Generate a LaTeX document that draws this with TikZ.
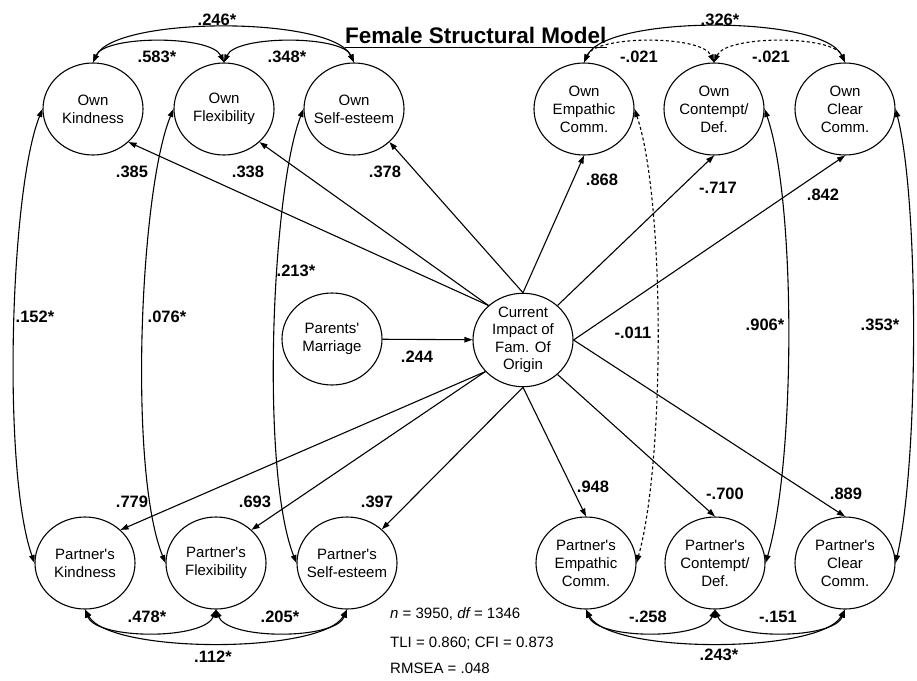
\documentclass[tikz,border=0pt]{standalone}
\usepackage{fontspec}
\newfontfamily\af{Liberation Sans}
\usetikzlibrary{shapes.geometric,arrows.meta}
\begin{document}
\begin{tikzpicture}[x=1pt,y=-1pt,
  lat/.style={ellipse,draw,line width=1.1pt,minimum width=100pt,minimum height=92pt,inner ysep=0pt,inner xsep=-12pt,align=center,font=\af\fontsize{15}{18}\selectfont},
  tip/.tip={Triangle[length=8pt,width=5.5pt]},
  reg/.style={line width=1.1pt,-tip},
  cov/.style={line width=1.1pt,tip-tip},
  dsh/.style={dash pattern=on 3pt off 2.5pt},
  lab/.style={font=\af\bfseries\fontsize{16.5}{16.5}\selectfont,inner sep=0pt},
  stat/.style={font=\af\fontsize{15}{15}\selectfont,inner sep=0pt,anchor=base west},
]
\useasboundingbox (0,0) rectangle (917,680);
\fill[white] (0,0) rectangle (917,680);

% title
\node[font=\af\bfseries\fontsize{22.5}{22.5}\selectfont,inner sep=0pt,anchor=base west] (title) at (345,43) {Female Structural Model};
\draw[line width=1.8pt] ([yshift=-4.5pt]title.base west) -- ([yshift=-4.5pt]title.base east);

% latent variables
\node[lat] (ownK) at (93,109) {Own\\Kindness};
\node[lat] (ownF) at (224,109) {Own\\Flexibility};
\node[lat] (ownS) at (354,109) {Own\\Self-esteem};
\node[lat] (ownE) at (584,109) {Own\\Empathic\\Comm.};
\node[lat] (ownC) at (714,109) {Own\\Contempt/\\Def.};
\node[lat] (ownCl) at (845,109) {Own\\Clear\\Comm.};

\node[lat] (par) at (332,339) {Parents'\\Marriage};
\node[lat,font=\af\fontsize{15}{17.5}\selectfont] (ctr) at (523,340) {Current\\Impact of\\Fam. Of\\Origin};

\node[lat] (partK) at (85,563) {Partner's\\Kindness};
\node[lat] (partF) at (216,563) {Partner's\\Flexibility};
\node[lat] (partS) at (347,563) {Partner's\\Self-esteem};
\node[lat] (partE) at (586,563) {Partner's\\Empathic\\Comm.};
\node[lat] (partC) at (715,563) {Partner's\\Contempt/\\Def.};
\node[lat] (partCl) at (845,563) {Partner's\\Clear\\Comm.};

% regression paths
\draw[reg] (par) -- (ctr);
\draw[reg] (ctr.135) -- (ownK.-43);
\draw[reg] (ctr.135) -- (ownF.-43);
\draw[reg] (ctr.north) -- (ownS.-43);
\draw[reg] (ctr.north) -- (ownE.south);
\draw[reg] (ctr.45) -- (ownC.south);
\draw[reg] (ctr.east) -- (ownCl.south);
\draw[reg] (ctr.-140) -- (partK.43);
\draw[reg] (ctr.-140) -- (partF.43);
\draw[reg] (ctr.south) -- (partS.44);
\draw[reg] (ctr.south) -- (partE.north);
\draw[reg] (ctr.-45) -- (partC.north);
\draw[reg] (ctr.east) -- (partCl.north);

% top covariances
\draw[cov] (ownK.north) .. controls (105,35) and (211,35) .. (ownF.north);
\draw[cov] (ownF.north) .. controls (236,35) and (342,35) .. (ownS.north);
\draw[cov] (ownK.north) .. controls (115,16) and (332,16) .. (ownS.north);
\draw[cov,dsh] (ownE.north) .. controls (596,35) and (702,35) .. (ownC.north);
\draw[cov,dsh] (ownC.north) .. controls (726,35) and (833,35) .. (ownCl.north);
\draw[cov] (ownE.north) .. controls (606,15) and (823,15) .. (ownCl.north);

% bottom covariances
\draw[cov] (partK.south) .. controls (97,640) and (204,640) .. (partF.south);
\draw[cov] (partF.south) .. controls (228,640) and (335,640) .. (partS.south);
\draw[cov] (partK.south) .. controls (110,654) and (322,654) .. (partS.south);
\draw[cov] (partE.south) .. controls (598,640) and (703,640) .. (partC.south);
\draw[cov] (partC.south) .. controls (727,640) and (833,640) .. (partCl.south);
\draw[cov] (partE.south) .. controls (610,654) and (820,654) .. (partCl.south);

% own - partner covariances
\draw[cov] (ownK.west) .. controls (10,190) and (2,470) .. (partK.west);
\draw[cov] (ownF.west) .. controls (140,190) and (128,470) .. (partF.west);
\draw[cov] (ownS.west) .. controls (272,190) and (260,470) .. (partS.west);
\draw[cov,dsh] (ownE.east) .. controls (665,200) and (665,460) .. (partE.east);
\draw[cov] (ownC.east) .. controls (796,200) and (796,460) .. (partC.east);
\draw[cov] (ownCl.east) .. controls (919,200) and (919,460) .. (partCl.east);

% labels
\node[lab] (l1) at (217,20) {.246*};
\node[lab] (l2) at (157,57) {.583*};
\node[lab] (l3) at (287,57) {.348*};
\node[lab] (l4) at (720,20) {.326*};
\node[lab] (l5) at (639,57) {-.021};
\node[lab] (l6) at (771,57) {-.021};
\node[lab] (l7) at (132,172) {.385};
\node[lab] (l8) at (248,172) {.338};
\node[lab] (l9) at (385,172) {.378};
\node[lab] (l10) at (602,180) {.868};
\node[lab] (l11) at (718,188) {-.717};
\node[lab] (l12) at (823,195) {.842};
\node[lab] (l13) at (35,317) {.152*};
\node[lab] (l14) at (167,317) {.076*};
\node[lab] (l15) at (296,271) {.213*};
\node[lab] (l16) at (417,357) {.244};
\node[lab] (l17) at (633,333) {-.011};
\node[lab] (l18) at (765,325) {.906*};
\node[lab] (l19) at (880,325) {.353*};
\node[lab] (l20) at (132,502) {.779};
\node[lab] (l21) at (255,502) {.693};
\node[lab] (l22) at (377,502) {.397};
\node[lab] (l23) at (593,487) {.948};
\node[lab] (l24) at (725,494) {-.700};
\node[lab] (l25) at (846,494) {.889};
\node[lab] (l26) at (147,617) {.478*};
\node[lab] (l27) at (280,617) {.205*};
\node[lab] (l28) at (213,657) {.112*};
\node[lab] (l29) at (648,617) {-.258};
\node[lab] (l30) at (778,617) {-.151};
\node[lab] (l31) at (719,655) {.243*};

% fit statistics
\node[stat] (s1) at (390,618) {{\itshape n} = 3950, {\itshape df} = 1346};
\node[stat] (s2) at (390,647) {TLI = 0.860; CFI = 0.873};
\node[stat] (s3) at (390,673) {RMSEA = .048};
\end{tikzpicture}
\end{document}
